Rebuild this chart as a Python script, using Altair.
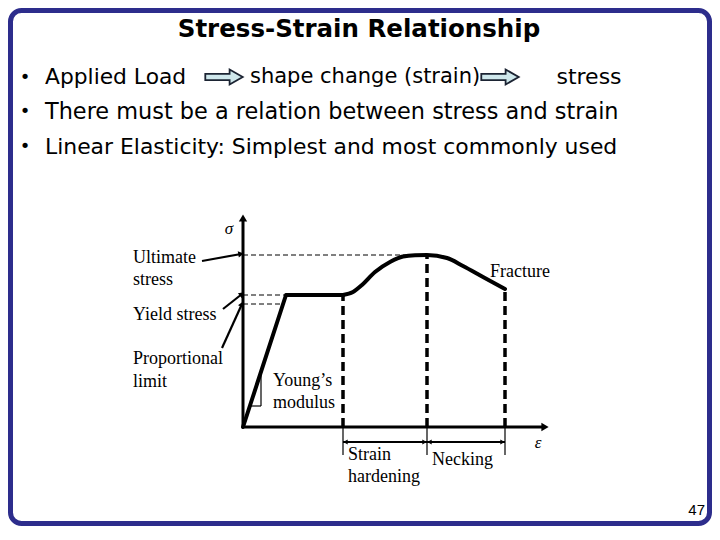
import math
import altair as alt
import pandas as pd

# ---------------- data (arbitrary units) ----------------
# stress-strain curve: elastic part + plateau, then hardening / necking part
elastic_strain = [0.0, 4.3, 10.0]
elastic_stress = [0.0, 13.2, 13.2]
hardening_strain = [10.0, 11.0, 11.9, 13.2, 14.7, 16.0, 17.2, 18.4, 20.4, 22.0, 24.0, 26.2]
hardening_stress = [13.2, 13.5, 14.2, 15.5, 16.5, 17.05, 17.18, 17.2, 16.9, 16.1, 15.0, 13.8]

# characteristic points (strain, stress)
prop_limit = (4.0, 12.3)
yield_point = (4.3, 13.2)
hardening_start = (10.0, 13.2)
ultimate_point = (18.4, 17.2)
fracture_point = (26.2, 13.8)

axis_x_end = 30.2
axis_y_end = 20.9
ext_depth = -2.8      # extension lines below the strain axis
dim_level = -1.5      # level of the dimension arrows

# left-side labels and pointer lines (start -> end on stress axis)
left_labels = ["Ultimate", "stress", "Yield stress", "Proportional", "limit"]
left_label_x = [-11.0, -11.0, -11.0, -11.0, -11.0]
left_label_y = [16.9, 14.7, 11.2, 6.8, 4.5]
pointer_start = [(-4.1, 16.6), (-2.0, 11.8), (-2.1, 7.9)]
pointer_end = [(-0.2, 17.3), (-0.1, 13.3), (-0.1, 12.3)]

# other labels
other_labels = ["Young\u2019s", "modulus", "Fracture", "Strain", "hardening", "Necking"]
other_label_x = [3.0, 3.0, 24.7, 10.5, 10.5, 18.9]
other_label_y = [4.6, 2.4, 15.5, -2.8, -5.0, -3.3]

symbol_labels = ["\u03c3", "\u03b5"]
symbol_x = [-1.4, 29.5]
symbol_y = [19.8, -1.6]

# Young's modulus slope triangle
young_tri = [(0.7, 2.1), (1.8, 2.1), (1.8, 5.5)]

title_text = "Stress-Strain Relationship"
bullet_lines = [
    "There must be a relation between stress and strain",
    "Linear Elasticity: Simplest and most commonly used",
]
line1_parts = ["Applied Load", "shape change (strain)", "stress"]
page_number = "47"

# ---------------- scales ----------------
xs = alt.Scale(domain=[0, 10], range=[235, 335], zero=False, nice=False)
ys = alt.Scale(domain=[0, 10], range=[419, 319], zero=False, nice=False)


def X(f="x"):
    return alt.X(f"{f}:Q", scale=xs, axis=None)


def Y(f="y"):
    return alt.Y(f"{f}:Q", scale=ys, axis=None)


def segs(rows):
    return pd.DataFrame(rows, columns=["x", "y", "x2", "y2"])


def rule_layer(df, **kw):
    return alt.Chart(df).mark_rule(color="black", **kw).encode(
        x=X(), y=Y(), x2="x2:Q", y2="y2:Q"
    )


one = pd.DataFrame({"a": [0]})

# ---------------- graph layers ----------------
hdash = segs([
    (0, ultimate_point[1], ultimate_point[0], ultimate_point[1]),
    (0, yield_point[1], yield_point[0], yield_point[1]),
    (0, prop_limit[1], prop_limit[0], prop_limit[1]),
])
vdash = segs([
    (hardening_start[0], 0, hardening_start[0], hardening_start[1]),
    (ultimate_point[0], 0, ultimate_point[0], ultimate_point[1]),
    (fracture_point[0], 0, fracture_point[0], fracture_point[1]),
])
ext = segs([
    (hardening_start[0], 0, hardening_start[0], ext_depth),
    (ultimate_point[0], 0, ultimate_point[0], ext_depth),
    (fracture_point[0], 0, fracture_point[0], ext_depth),
])
dims = segs([
    (hardening_start[0], dim_level, ultimate_point[0], dim_level),
    (ultimate_point[0], dim_level, fracture_point[0], dim_level),
])
tri = segs([
    (young_tri[0][0], young_tri[0][1], young_tri[1][0], young_tri[1][1]),
    (young_tri[1][0], young_tri[1][1], young_tri[2][0], young_tri[2][1]),
])
pointers = segs([(s[0], s[1], e[0], e[1]) for s, e in zip(pointer_start, pointer_end)])
axes = segs([(0, 0, axis_x_end, 0), (0, 0, 0, axis_y_end)])

# arrow heads
heads = []
for s, e in zip(pointer_start, pointer_end):
    ang = (-math.degrees(math.atan2(e[1] - s[1], e[0] - s[0]))) % 360
    heads.append({"x": e[0], "y": e[1], "ang": ang, "kind": "ptr"})
heads.append({"x": axis_x_end, "y": 0, "ang": 0, "kind": "axis"})
heads.append({"x": 0, "y": axis_y_end, "ang": 270, "kind": "axis"})
for a, b in [(hardening_start[0], ultimate_point[0]), (ultimate_point[0], fracture_point[0])]:
    heads.append({"x": a + 0.25, "y": dim_level, "ang": 180, "kind": "dim"})
    heads.append({"x": b - 0.25, "y": dim_level, "ang": 0, "kind": "dim"})
heads = pd.DataFrame(heads)


def head_layer(kind, size):
    return alt.Chart(heads[heads.kind == kind]).mark_point(
        shape="triangle-right", filled=True, color="black", opacity=1, size=size
    ).encode(x=X(), y=Y(), angle=alt.Angle("ang:Q", scale=None))


curve_el = alt.Chart(pd.DataFrame({"x": elastic_strain, "y": elastic_stress})).mark_line(
    color="black", strokeWidth=4, strokeJoin="round", strokeCap="round"
).encode(x=X(), y=Y())
curve_hd = alt.Chart(pd.DataFrame({"x": hardening_strain, "y": hardening_stress})).mark_line(
    color="black", strokeWidth=4, interpolate="monotone", strokeCap="round"
).encode(x=X(), y=Y())

lab_df = pd.DataFrame({
    "t": left_labels + other_labels,
    "x": left_label_x + other_label_x,
    "y": left_label_y + other_label_y,
})
labels = alt.Chart(lab_df).mark_text(
    align="left", baseline="middle", font="Liberation Serif", fontSize=18, color="black"
).encode(x=X(), y=Y(), text="t:N")

sym = alt.Chart(pd.DataFrame({"t": symbol_labels, "x": symbol_x, "y": symbol_y})).mark_text(
    align="center", baseline="middle", font="Liberation Serif", fontStyle="italic",
    fontSize=17, color="black"
).encode(x=X(), y=Y(), text="t:N")

# ---------------- slide header ----------------
BODY_FONT = "DejaVu Sans"


def txt(text, x, y, size=22, **kw):
    style = dict(align="left", baseline="middle", font=BODY_FONT, fontSize=size, color="black")
    style.update(kw)
    return alt.Chart(one).mark_text(**style).encode(
        x=alt.value(x), y=alt.value(y), text=alt.value(text)
    )


title = txt(title_text, 351, 22, size=24.5, align="center", fontWeight="bold")
bullets = [txt("\u2022", 17, y, size=18, align="center") for y in (70, 104, 139)]
line1 = [
    txt(line1_parts[0], 37, 69, size=21.8),
    txt(line1_parts[1], 242, 69, size=21),
    txt(line1_parts[2], 581, 69, size=22, align="center"),
]
line2 = txt(bullet_lines[0], 37, 104, size=22.4)
line3 = txt(bullet_lines[1], 37, 139, size=21.9)

arrow_path = "M-1,-0.17 L0.3,-0.17 L0.3,-0.4 L1,0 L0.3,0.4 L0.3,0.17 L-1,0.17 Z"
block_arrows = [
    alt.Chart(one).mark_point(
        shape=arrow_path, filled=True, fill="#cfe8ec", stroke="#1c2433",
        strokeWidth=1.8, opacity=1, size=1400
    ).encode(x=alt.value(x), y=alt.value(69))
    for x in (216, 492)
]

border = alt.Chart(one).mark_rect(
    fill=None, stroke="#2d2d8c", strokeWidth=5, cornerRadius=11
).encode(x=alt.value(2.5), x2=alt.value(701.5), y=alt.value(2.5), y2=alt.value(515.5))

page = txt(page_number, 697, 502, size=15, align="right", font="Liberation Sans")

chart = alt.layer(
    border,
    title, *bullets, *line1, line2, line3, *block_arrows,
    rule_layer(hdash, strokeWidth=1, strokeDash=[5, 3]),
    rule_layer(vdash, strokeWidth=3.5, strokeDash=[9, 5]),
    rule_layer(ext, strokeWidth=1.2),
    rule_layer(dims, strokeWidth=1.8),
    rule_layer(tri, strokeWidth=1.2),
    rule_layer(pointers, strokeWidth=2.2),
    rule_layer(axes, strokeWidth=3),
    curve_el, curve_hd,
    head_layer("ptr", 40), head_layer("axis", 70), head_layer("dim", 25),
    labels, sym, page,
).properties(
    width=704, height=518, autosize="none", padding=0, background="white"
).configure_view(stroke=None)

chart.save("out.html", embed_options={"renderer": "svg", "actions": False})
